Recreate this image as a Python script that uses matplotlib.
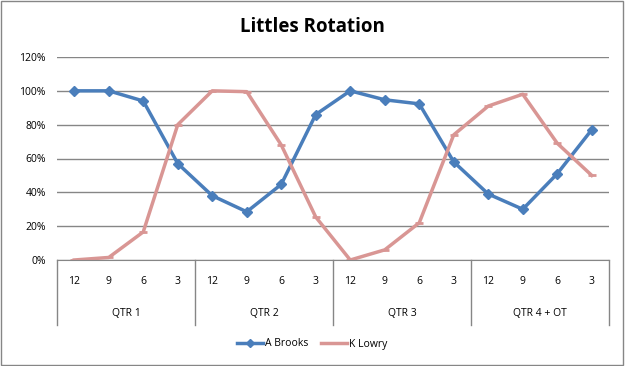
import matplotlib.pyplot as plt
import matplotlib.transforms as mtransforms

# data
minutes = ['12', '9', '6', '3'] * 4
quarters = ['QTR 1', 'QTR 2', 'QTR 3', 'QTR 4 + OT']
brooks = [100, 100, 94, 57, 38, 28.5, 44.7, 86, 100, 94.7, 92.3, 58, 39, 30, 51, 77]
lowry = [0, 1.5, 16.6, 80, 100, 99.5, 68, 25.4, 0, 6, 22, 74, 91, 98, 69, 50]

plt.rcParams['font.family'] = ['Open Sans', 'DejaVu Sans']

fig = plt.figure(figsize=(6.25, 3.66), dpi=100)
# outer chart border
fig.patches.append(plt.Rectangle((0.002, 0.003), 0.995, 0.993, transform=fig.transFigure,
                                 fill=False, edgecolor='#868686', lw=1.0))

W, H = 625.0, 366.0
ax = fig.add_axes([57 / W, (H - 260) / H, 552 / W, 203 / H])

x = list(range(len(minutes)))
ax.plot(x, brooks, color='#4A7EBB', lw=2.5, marker='D', ms=5, label='A Brooks')
ax.plot(x, lowry, color='#D99694', lw=2.5, marker='_', ms=6, mew=2, label='K Lowry')

ax.set_xlim(-0.5, len(minutes) - 0.5)
ax.set_ylim(0, 120)
ax.set_yticks(range(0, 121, 20))
ax.set_yticklabels(['%d%%' % v for v in range(0, 121, 20)], fontsize=7.5)
ax.yaxis.grid(True, color='#868686', lw=1.0)
ax.set_axisbelow(True)
ax.tick_params(axis='y', length=0, pad=8)
ax.set_xticks([])
for s in ['left', 'right', 'top']:
    ax.spines[s].set_visible(False)
ax.spines['bottom'].set_color('#868686')

trans = mtransforms.blended_transform_factory(ax.transData, ax.transAxes)
for i, lab in enumerate(minutes):
    ax.text(i, -21 / 203, lab, transform=trans, ha='center', va='center', fontsize=7.5)
for q, lab in enumerate(quarters):
    ax.text(q * 4 + 1.5, -53 / 203, lab, transform=trans, ha='center', va='center', fontsize=7.5)
for b in range(5):
    ax.plot([b * 4 - 0.5, b * 4 - 0.5], [0, -65 / 203], transform=trans,
            color='#868686', lw=1.0, clip_on=False)

fig.text(0.5, (H - 27) / H, 'Littles Rotation', ha='center', va='center',
         fontsize=13.5, fontweight='bold')

fig.legend(loc='center', bbox_to_anchor=(0.5, (H - 344) / H), ncol=2, frameon=False,
           fontsize=7.5, handlelength=2.5, columnspacing=1.2, handletextpad=0.2,
           markerscale=0.8)

fig.savefig('out.png', dpi=100)
